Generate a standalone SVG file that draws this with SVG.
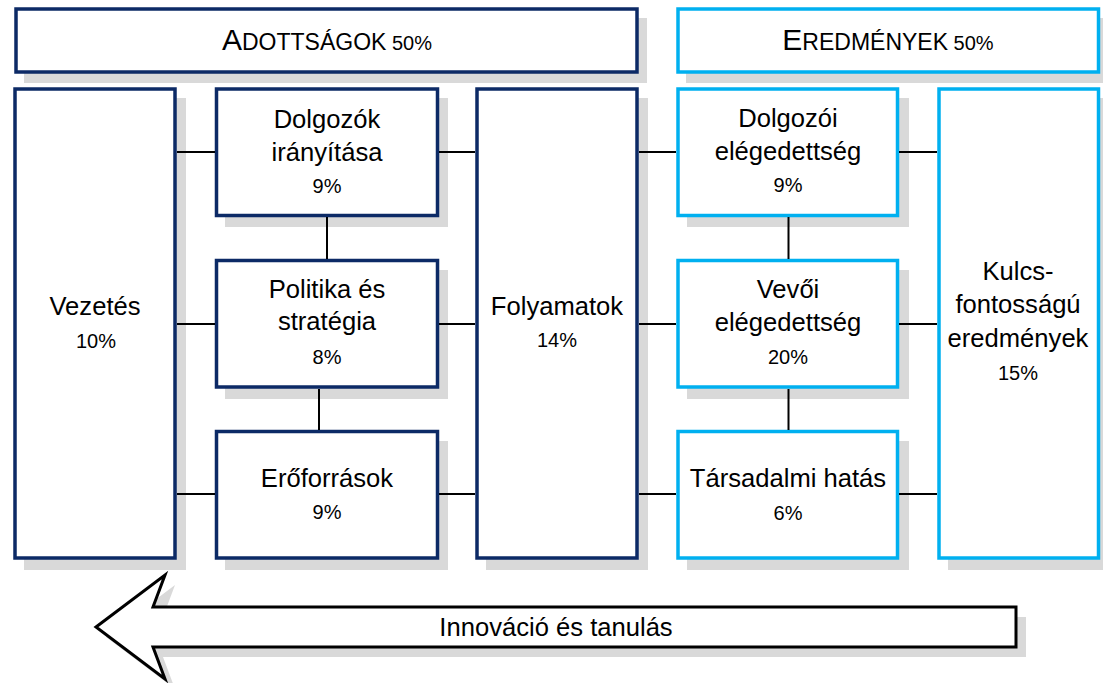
<svg xmlns="http://www.w3.org/2000/svg" width="1103" height="683" viewBox="0 0 1103 683">
<style>
.sh{fill:#d9d9d9}
.nv{fill:#fff;stroke:#0c2a66;stroke-width:3.5}
.cy{fill:#fff;stroke:#00b0f0;stroke-width:3.5}
.t{font-family:"Liberation Sans",Arial,sans-serif;font-size:25.6px;fill:#000;text-anchor:middle}
.p{font-size:20px}
.c line{stroke:#000;stroke-width:2}
</style>
<rect width="1103" height="683" fill="#fff"/>
<g id="hdr-adottsagok">
<rect class="sh" x="24" y="18" width="623" height="65"/>
<rect class="nv" x="16" y="9" width="621" height="63"/>
<text class="t" x="327" y="50"><tspan font-size="30">A</tspan><tspan font-size="23">DOTTSÁGOK</tspan><tspan font-size="20"> 50%</tspan></text>
</g>
<g id="hdr-eredmenyek">
<rect class="sh" x="686" y="18" width="423" height="65"/>
<rect class="cy" x="678" y="9" width="420.5" height="63"/>
<text class="t" x="888" y="50"><tspan font-size="30">E</tspan><tspan font-size="23">REDMÉNYEK</tspan><tspan font-size="20"> 50%</tspan></text>
</g>
<g id="vezetes">
<rect class="sh" x="24" y="98" width="162" height="472"/>
<rect class="nv" x="15" y="89" width="160" height="469"/>
<text class="t" x="95" y="315">Vezetés</text>
<text class="t p" x="96" y="348">10%</text>
</g>
<g id="dolgozok-iranyitasa">
<rect class="sh" x="225" y="98" width="223" height="129"/>
<rect class="nv" x="216.5" y="89" width="221" height="126.5"/>
<text class="t" x="327" y="128">Dolgozók</text>
<text class="t" x="327" y="161">irányítása</text>
<text class="t p" x="327" y="193">9%</text>
</g>
<g id="politika-es-strategia">
<rect class="sh" x="225" y="270" width="223" height="129"/>
<rect class="nv" x="216.5" y="260.5" width="221" height="126.5"/>
<text class="t" x="327" y="298">Politika és</text>
<text class="t" x="327" y="330">stratégia</text>
<text class="t p" x="327" y="364">8%</text>
</g>
<g id="eroforrasok">
<rect class="sh" x="225" y="441" width="223" height="129"/>
<rect class="nv" x="216.5" y="431.5" width="221" height="126.5"/>
<text class="t" x="327" y="487">Erőforrások</text>
<text class="t p" x="327" y="519">9%</text>
</g>
<g id="folyamatok">
<rect class="sh" x="486" y="98" width="162" height="472"/>
<rect class="nv" x="477" y="89" width="160" height="469"/>
<text class="t" x="557" y="315">Folyamatok</text>
<text class="t p" x="557" y="347">14%</text>
</g>
<g id="dolgozoi-elegedettseg">
<rect class="sh" x="687" y="98" width="222" height="129"/>
<rect class="cy" x="678" y="89" width="219.5" height="126.5"/>
<text class="t" x="788" y="127">Dolgozói</text>
<text class="t" x="788" y="160">elégedettség</text>
<text class="t p" x="788" y="192">9%</text>
</g>
<g id="vevoi-elegedettseg">
<rect class="sh" x="687" y="270" width="222" height="129"/>
<rect class="cy" x="678" y="260.5" width="219.5" height="126.5"/>
<text class="t" x="788" y="298">Vevői</text>
<text class="t" x="788" y="331">elégedettség</text>
<text class="t p" x="788" y="364">20%</text>
</g>
<g id="tarsadalmi-hatas">
<rect class="sh" x="687" y="441" width="222" height="129"/>
<rect class="cy" x="678" y="431.5" width="219.5" height="126.5"/>
<text class="t" x="788" y="487">Társadalmi hatás</text>
<text class="t p" x="788" y="520">6%</text>
</g>
<g id="kulcsfontossagu-eredmenyek">
<rect class="sh" x="948" y="98" width="162" height="472"/>
<rect class="cy" x="939" y="89" width="159.5" height="469"/>
<text class="t" x="1018" y="280">Kulcs-</text>
<text class="t" x="1018" y="313">fontosságú</text>
<text class="t" x="1018" y="347">eredmények</text>
<text class="t p" x="1018" y="380">15%</text>
</g>
<g class="c" id="connectors">
<line x1="177" y1="152" x2="215" y2="152"/>
<line x1="177" y1="324" x2="215" y2="324"/>
<line x1="177" y1="494" x2="215" y2="494"/>
<line x1="439" y1="152" x2="475" y2="152"/>
<line x1="439" y1="324" x2="475" y2="324"/>
<line x1="439" y1="494" x2="475" y2="494"/>
<line x1="639" y1="152" x2="676" y2="152"/>
<line x1="639" y1="324" x2="676" y2="324"/>
<line x1="639" y1="494" x2="676" y2="494"/>
<line x1="899" y1="152" x2="937" y2="152"/>
<line x1="899" y1="324" x2="937" y2="324"/>
<line x1="899" y1="494" x2="937" y2="494"/>
<line x1="327" y1="217" x2="327" y2="259"/>
<line x1="319" y1="389" x2="319" y2="430"/>
<line x1="788.5" y1="217" x2="788.5" y2="259"/>
<line x1="788.5" y1="389" x2="788.5" y2="430"/>
</g>
<g id="innovacio-es-tanulas">
<path d="M106 637 L175 585 L163 617 L1026 617 L1026 657 L163 657 L175 689 Z" class="sh"/>
<path d="M96 627 L165 575 L153 607 L1016 607 L1016 647 L153 647 L165 679 Z" fill="#fff" stroke="#000" stroke-width="3" stroke-linejoin="miter"/>
<text class="t" x="556" y="636">Innováció és tanulás</text>
</g>
</svg>
